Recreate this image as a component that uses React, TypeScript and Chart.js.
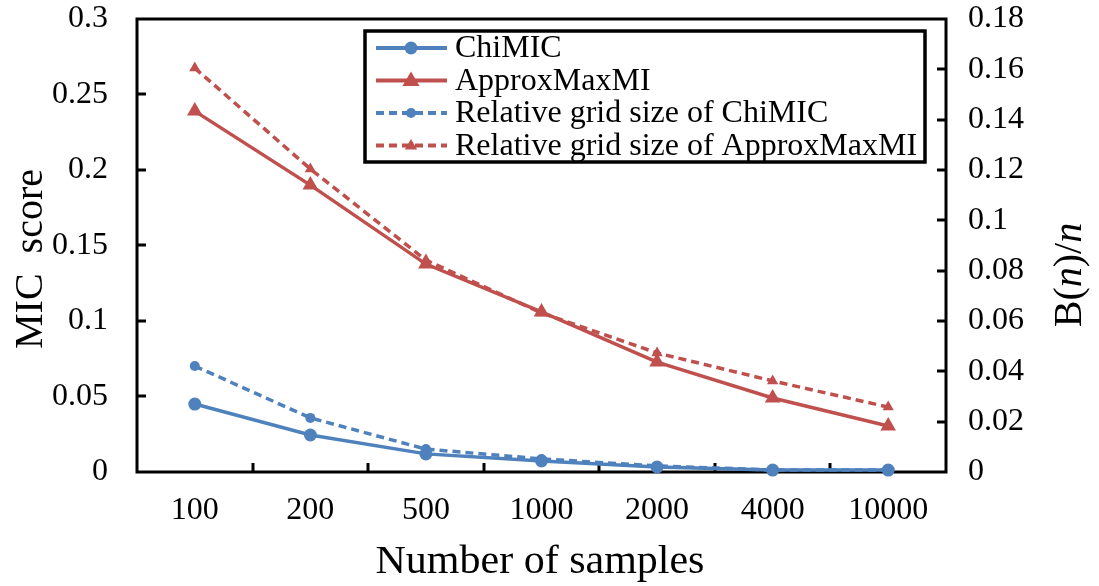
import React, { useEffect, useRef } from 'react';
import { Chart, registerables } from 'chart.js';

Chart.register(...registerables);

const categories = ['100', '200', '500', '1000', '2000', '4000', '10000'];
const chiMIC = [0.045, 0.0245, 0.012, 0.0073, 0.0033, 0.0013, 0.0013];
const approxMaxMI = [0.239, 0.19, 0.1377, 0.106, 0.0728, 0.049, 0.0305];
const relGridChiMIC = [0.0421, 0.0215, 0.0091, 0.0052, 0.0024, 0.0008, 0.0008];
const relGridApprox = [0.1605, 0.1204, 0.0842, 0.0632, 0.0473, 0.0362, 0.0258];
const seriesNames = ['ChiMIC', 'ApproxMaxMI', 'Relative grid size of ChiMIC', 'Relative grid size of ApproxMaxMI'];
const leftMax = 0.3;
const leftStep = 0.05;
const rightMax = 0.18;
const rightStep = 0.02;

const BLUE = '#4F81BD';
const RED = '#C0504D';
const FONT = '"Liberation Serif", "Times New Roman", serif';

function drawMarker(ctx: CanvasRenderingContext2D, style: string, x: number, y: number, r: number, color: string) {
  ctx.save();
  ctx.fillStyle = color;
  ctx.beginPath();
  if (style === 'circle') {
    ctx.arc(x, y, r, 0, Math.PI * 2);
  } else {
    ctx.moveTo(x, y - r);
    ctx.lineTo(x + r * 0.95, y + r * 0.6);
    ctx.lineTo(x - r * 0.95, y + r * 0.6);
    ctx.closePath();
  }
  ctx.fill();
  ctx.restore();
}

const decorPlugin = {
  id: 'decor',
  beforeDatasetsDraw(chart: any) {
    const { ctx, chartArea } = chart;
    const { left, right, top, bottom } = chartArea;
    ctx.save();
    ctx.strokeStyle = '#000';
    ctx.lineWidth = 3;
    ctx.strokeRect(left, top, right - left, bottom - top);
    const tl = 9;
    const yL = chart.scales.y;
    for (let v = leftStep; v < leftMax - 1e-9; v += leftStep) {
      const py = Math.round(yL.getPixelForValue(v));
      ctx.beginPath();
      ctx.moveTo(left, py);
      ctx.lineTo(left + tl, py);
      ctx.stroke();
    }
    const yR = chart.scales.y1;
    for (let v = rightStep; v < rightMax - 1e-9; v += rightStep) {
      const py = Math.round(yR.getPixelForValue(v));
      ctx.beginPath();
      ctx.moveTo(right, py);
      ctx.lineTo(right - tl, py);
      ctx.stroke();
    }
    const n = categories.length;
    const w = (right - left) / n;
    for (let i = 1; i < n; i++) {
      const px = Math.round(left + i * w);
      ctx.beginPath();
      ctx.moveTo(px, bottom);
      ctx.lineTo(px, bottom - tl);
      ctx.stroke();
    }
    ctx.restore();
  },
  afterDraw(chart: any) {
    const { ctx } = chart;
    ctx.save();
    ctx.fillStyle = '#000';
    ctx.font = `40px ${FONT}`;
    ctx.textAlign = 'center';
    ctx.textBaseline = 'middle';
    ctx.save();
    ctx.translate(31, 259);
    ctx.rotate(-Math.PI / 2);
    ctx.fillText('MIC  score', 0, 0);
    ctx.restore();
    ctx.save();
    ctx.translate(540, 562);
    ctx.scale(1.05, 1);
    ctx.fillText('Number of samples', 0, 0);
    ctx.restore();
    const parts = [
      { t: 'B(', it: false },
      { t: 'n', it: true },
      { t: ')/', it: false },
      { t: 'n', it: true },
    ];
    let total = 0;
    const widths: number[] = [];
    for (const p of parts) {
      ctx.font = `${p.it ? 'italic ' : ''}40px ${FONT}`;
      const wd = ctx.measureText(p.t).width;
      widths.push(wd);
      total += wd;
    }
    ctx.save();
    ctx.translate(1070, 275);
    ctx.rotate(-Math.PI / 2);
    ctx.textAlign = 'left';
    let cx = -total / 2;
    parts.forEach((p, i) => {
      ctx.font = `${p.it ? 'italic ' : ''}40px ${FONT}`;
      ctx.fillText(p.t, cx, 0);
      cx += widths[i];
    });
    ctx.restore();

    const lx = 365, ly = 31, lw = 560, lh = 131;
    ctx.fillStyle = '#fff';
    ctx.fillRect(lx, ly, lw, lh);
    ctx.strokeStyle = '#000';
    ctx.lineWidth = 3.5;
    ctx.strokeRect(lx, ly, lw, lh);
    const rowsY = [48, 80.5, 113, 145.5];
    chart.data.datasets.forEach((ds: any, i: number) => {
      const y = rowsY[i];
      ctx.save();
      ctx.strokeStyle = ds.borderColor;
      ctx.lineWidth = 4;
      ctx.setLineDash(ds.borderDash ? [8, 5] : []);
      ctx.beginPath();
      ctx.moveTo(376, y);
      ctx.lineTo(447, y);
      ctx.stroke();
      ctx.restore();
      drawMarker(ctx, ds.pointStyle, 411, y, ds.pointRadius, ds.backgroundColor);
      ctx.fillStyle = '#000';
      ctx.font = `32px ${FONT}`;
      ctx.textAlign = 'left';
      ctx.textBaseline = 'middle';
      ctx.fillText(seriesNames[i], 455, y + 1);
    });
    ctx.restore();
  },
};

export default function App() {
  const ref = useRef<HTMLCanvasElement | null>(null);
  useEffect(() => {
    if (!ref.current) return;
    const tickFont = { family: FONT, size: 32 };
    const fmt = (v: any) => String(Number(Number(v).toFixed(3)));
    const noPadY = (w: number) => (s: any) => { s.width = w; s.paddingTop = 0; s.paddingBottom = 0; };
    const chart = new Chart(ref.current, {
      type: 'line',
      data: {
        labels: categories,
        datasets: [
          {
            label: seriesNames[0], data: chiMIC, yAxisID: 'y',
            borderColor: BLUE, backgroundColor: BLUE, borderWidth: 3.5,
            pointStyle: 'circle', pointRadius: 6.5, pointBorderWidth: 0, clip: false as any,
          },
          {
            label: seriesNames[1], data: approxMaxMI, yAxisID: 'y',
            borderColor: RED, backgroundColor: RED, borderWidth: 3.5,
            pointStyle: 'triangle', pointRadius: 9, pointBorderWidth: 0, clip: false as any,
          },
          {
            label: seriesNames[2], data: relGridChiMIC, yAxisID: 'y1',
            borderColor: BLUE, backgroundColor: BLUE, borderWidth: 3.5, borderDash: [8, 5],
            pointStyle: 'circle', pointRadius: 5, pointBorderWidth: 0, clip: false as any,
          },
          {
            label: seriesNames[3], data: relGridApprox, yAxisID: 'y1',
            borderColor: RED, backgroundColor: RED, borderWidth: 3.5, borderDash: [8, 5],
            pointStyle: 'triangle', pointRadius: 6.5, pointBorderWidth: 0, clip: false as any,
          },
        ],
      },
      options: {
        animation: false,
        responsive: false,
        maintainAspectRatio: false,
        layout: { padding: { top: 19, left: 0, right: 0, bottom: 0 } },
        plugins: { legend: { display: false }, tooltip: { enabled: false } },
        scales: {
          x: {
            type: 'category',
            offset: true,
            grid: { display: false, drawTicks: false },
            border: { display: false },
            ticks: { font: tickFont, color: '#000', padding: 19, maxRotation: 0, autoSkip: false },
            afterFit: (s: any) => { s.height = 114; s.paddingLeft = 0; s.paddingRight = 0; },
          },
          y: {
            position: 'left',
            min: 0, max: leftMax,
            grid: { display: false, drawTicks: false },
            border: { display: false },
            ticks: { stepSize: leftStep, font: tickFont, color: '#000', padding: 29, callback: fmt },
            afterFit: noPadY(137),
          },
          y1: {
            position: 'right',
            min: 0, max: rightMax,
            grid: { display: false, drawTicks: false },
            border: { display: false },
            ticks: { stepSize: rightStep, font: tickFont, color: '#000', padding: 22, callback: fmt },
            afterFit: noPadY(153),
          },
        },
      },
      plugins: [decorPlugin],
    });
    return () => chart.destroy();
  }, []);
  return (
    <div style={{ position: 'fixed', left: 0, top: 0, width: 1099, height: 586, background: '#fff' }}>
      <canvas ref={ref} width={1099} height={586} style={{ width: 1099, height: 586, display: 'block' }} />
    </div>
  );
}
